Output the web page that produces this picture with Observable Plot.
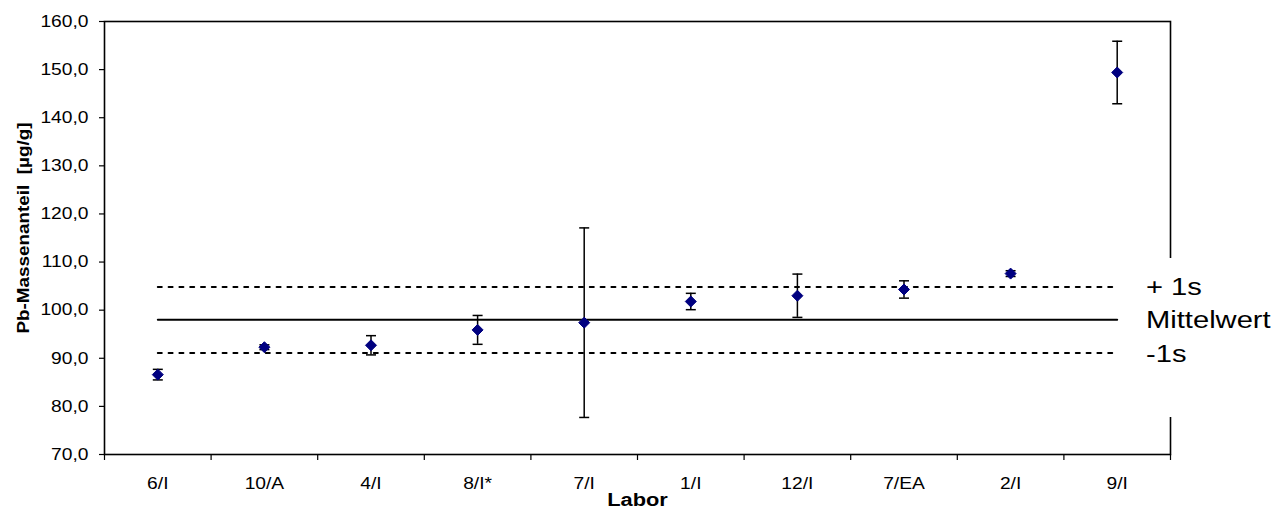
<!DOCTYPE html>
<html><head><meta charset="utf-8">
<script src="https://cdn.jsdelivr.net/npm/d3@7"></script>
<script src="https://cdn.jsdelivr.net/npm/@observablehq/plot@0.6"></script>
<style>
body{margin:0;background:#fff;}
#wrap{position:relative;width:1276px;height:510px;font-family:"Liberation Sans",Arial,sans-serif;}
#legend{position:absolute;left:1124px;top:258px;width:152px;height:159px;background:#fff;}
.li{position:absolute;left:22px;font-size:24.7px;line-height:1;transform:scaleX(1.18);transform-origin:left center;white-space:nowrap;color:#000;}
</style></head><body><div id="wrap"></div>
<script>
// ---- data ----
const labs = ["6/I","10/A","4/I","8/I*","7/I","1/I","12/I","7/EA","2/I","9/I"];
const values = [86.6, 92.3, 92.7, 95.9, 97.4, 101.8, 103.0, 104.3, 107.6, 149.4];
const errors = [1.1, 0.5, 2.0, 3.0, 19.7, 1.7, 4.5, 1.8, 0.6, 6.5];
const meanValue = 98.0;
const upperValue = 104.8;   // + 1s
const lowerValue = 91.1;    // -1s
const yTicks = [70,80,90,100,110,120,130,140,150,160];
const legendLabels = ["+ 1s","Mittelwert","-1s"];
const yLabel = "Pb-Massenanteil\u00a0 [µg/g]";
const xLabel = "Labor";

const rows = labs.map((l,i)=>({lab:l, pos:i+0.5, v:values[i], e:errors[i]}));

const capSymbol = {draw(ctx, size){const r=Math.sqrt(size/Math.PI); ctx.moveTo(-r,0); ctx.lineTo(r,0);}};
const diamondSymbol = {draw(ctx, size){const r=Math.sqrt(size/Math.PI); ctx.moveTo(0,-r); ctx.lineTo(r,0); ctx.lineTo(0,r); ctx.lineTo(-r,0); ctx.closePath();}};

const fmt = d => d.toFixed(1).replace(".", ",");

const svg = Plot.plot({
  width: 1276, height: 510,
  marginLeft: 104, marginRight: 106, marginTop: 21, marginBottom: 56,
  style: {fontFamily: '"Liberation Sans", Arial, sans-serif', fontSize: "16.3px", background: "#fff", color: "#000", overflow: "visible"},
  x: {type: "linear", domain: [0, labs.length]},
  y: {domain: [70, 160]},
  marks: [
    Plot.axisY({ticks: yTicks, tickSize: 5, tickPadding: 11, tickFormat: fmt, label: null, fontSize: 16.3, strokeWidth: 1.2}),
    Plot.axisX({ticks: d3.range(0, labs.length + 1), tickSize: 6, tickFormat: () => "", label: null, strokeWidth: 1.2}),
    Plot.axisX({ticks: rows.map(d => d.pos), tickSize: 0, tickPadding: 23, tickFormat: d => labs[Math.floor(d)], label: null, fontSize: 16.3}),
    Plot.frame({stroke: "#000", strokeWidth: 1.6}),
    Plot.line(rows, {x: "pos", y: () => upperValue, stroke: "#000", strokeWidth: 2, strokeDasharray: "4,6.8"}),
    Plot.line(rows, {x: "pos", y: () => lowerValue, stroke: "#000", strokeWidth: 2, strokeDasharray: "4,6.8"}),
    Plot.line(rows, {x: "pos", y: () => meanValue, stroke: "#000", strokeWidth: 2}),
    Plot.ruleX(rows, {x: "pos", y1: d => d.v - d.e, y2: d => d.v + d.e, stroke: "#000", strokeWidth: 1.5}),
    Plot.dot(rows, {x: "pos", y: d => d.v - d.e, symbol: capSymbol, r: 5, stroke: "#000", fill: "none", strokeWidth: 1.5}),
    Plot.dot(rows, {x: "pos", y: d => d.v + d.e, symbol: capSymbol, r: 5, stroke: "#000", fill: "none", strokeWidth: 1.5}),
    Plot.dot(rows, {x: "pos", y: "v", symbol: diamondSymbol, r: 5.5, fill: "#000080", stroke: "#000080", strokeWidth: 1}),
    Plot.text([yLabel], {text: d => d, frameAnchor: "left", textAnchor: "middle", dx: -81, dy: -10, rotate: -90, fontWeight: "bold", fontSize: 16}),
    Plot.text([xLabel], {text: d => d, frameAnchor: "bottom", textAnchor: "middle", dy: 51, fontWeight: "bold", fontSize: 18.5})
  ]
});

// horizontal stretch of all text, as in the reference
d3.select(svg).selectAll("text").each(function(){
  let t = this.getAttribute("transform");
  if (!t) {
    const x = this.getAttribute("x") || 0, y = this.getAttribute("y") || 0;
    this.removeAttribute("x"); this.removeAttribute("y");
    t = `translate(${x},${y})`;
  }
  this.setAttribute("transform", t + " scale(1.18,1)");
});

const wrap = document.getElementById("wrap");
wrap.appendChild(svg);

const legend = document.createElement("div");
legend.id = "legend";
const centers = [287.5, 320, 354];
legendLabels.forEach((s, i) => {
  const d = document.createElement("div");
  d.className = "li";
  d.textContent = s;
  d.style.top = (centers[i] - 12.35 - 258) + "px";
  legend.appendChild(d);
});
wrap.appendChild(legend);
</script></body></html>
